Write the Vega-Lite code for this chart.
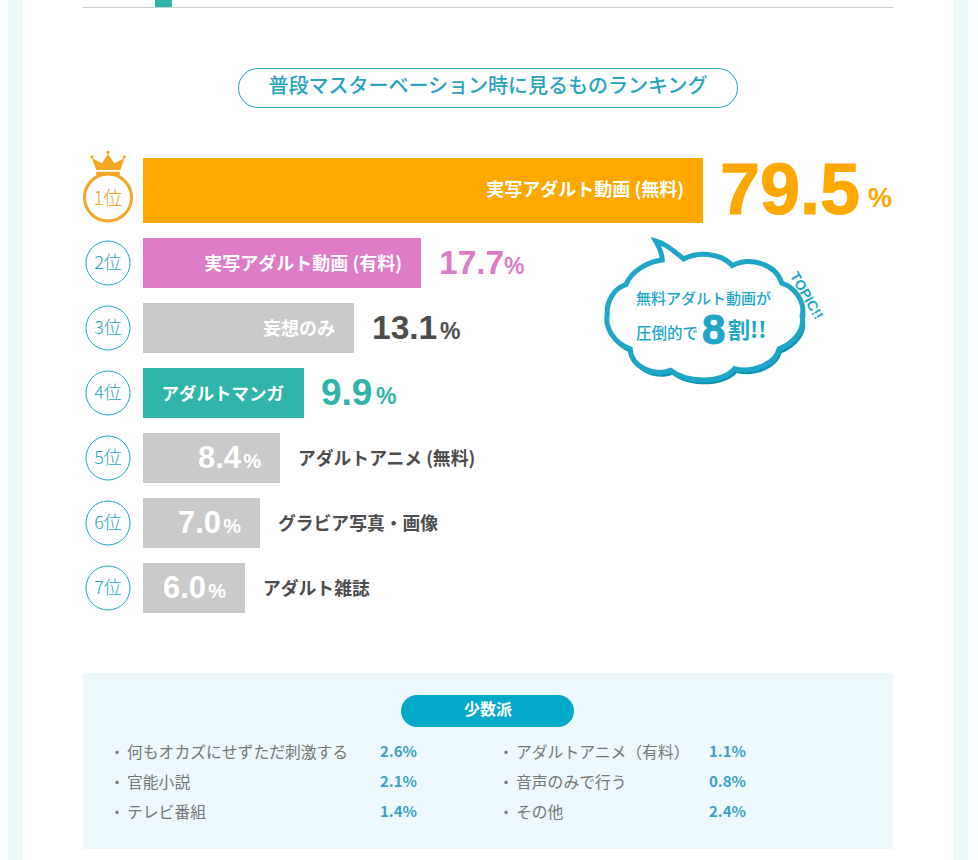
{"$schema":"https://vega.github.io/schema/vega-lite/v6.json","width":978,"height":860,"padding":0,"autosize":{"type":"fit","contains":"padding"},"background":"#fbfefe","config":{"view":{"stroke":null},"text":{"font":"Noto Sans CJK JP"}},
"datasets":{"ranking":[
{"rank":1,"rankLabel":"1位","label":"実写アダルト動画 (無料)","value":79.5,"valueText":"79.5"},
{"rank":2,"rankLabel":"2位","label":"実写アダルト動画 (有料)","value":17.7,"valueText":"17.7"},
{"rank":3,"rankLabel":"3位","label":"妄想のみ","value":13.1,"valueText":"13.1"},
{"rank":4,"rankLabel":"4位","label":"アダルトマンガ","value":9.9,"valueText":"9.9"},
{"rank":5,"rankLabel":"5位","label":"アダルトアニメ (無料)","value":8.4,"valueText":"8.4"},
{"rank":6,"rankLabel":"6位","label":"グラビア写真・画像","value":7.0,"valueText":"7.0"},
{"rank":7,"rankLabel":"7位","label":"アダルト雑誌","value":6.0,"valueText":"6.0"}],
"minority":[
{"column":0,"row":0,"name":"何もオカズにせずただ刺激する","share":"2.6%"},
{"column":0,"row":1,"name":"官能小説","share":"2.1%"},
{"column":0,"row":2,"name":"テレビ番組","share":"1.4%"},
{"column":1,"row":0,"name":"アダルトアニメ（有料）","share":"1.1%"},
{"column":1,"row":1,"name":"音声のみで行う","share":"0.8%"},
{"column":1,"row":2,"name":"その他","share":"2.4%"}]},
"resolve":{"scale":{"x":"independent","y":"independent"}},
"layer":[
{"data":{"values":[{}]},"layer":[
{"mark":{"type":"rect","fill":"#eaf7f7"},"encoding":{"x":{"value":8},"x2":{"value":968},"y":{"value":0},"y2":{"value":860}}},
{"mark":{"type":"rect","fill":"#ffffff"},"encoding":{"x":{"value":23},"x2":{"value":953},"y":{"value":0},"y2":{"value":860}}},
{"mark":{"type":"rule","stroke":"#cccccc","strokeWidth":1},"encoding":{"x":{"value":83},"x2":{"value":893},"y":{"value":7.5}}},
{"mark":{"type":"rect","fill":"#2fb5a8"},"encoding":{"x":{"value":155},"x2":{"value":172},"y":{"value":0},"y2":{"value":7}}},
{"mark":{"type":"rect","fill":"#ffffff","stroke":"#2aa3bf","strokeWidth":1,"cornerRadius":20},"encoding":{"x":{"value":238.5},"x2":{"value":737.5},"y":{"value":68.5},"y2":{"value":107.5}}},
{"mark":{"type":"text","text":"普段マスターベーション時に見るものランキング","fontSize":20,"fontWeight":500,"fill":"#2aa3bf","align":"center","baseline":"middle"},"encoding":{"x":{"value":488},"y":{"value":87}}},
{"mark":{"type":"rect","fill":"#ecf8fc"},"encoding":{"x":{"value":83},"x2":{"value":893},"y":{"value":673},"y2":{"value":849}}},
{"mark":{"type":"rect","fill":"#05a9c9","cornerRadius":16},"encoding":{"x":{"value":401},"x2":{"value":574},"y":{"value":695},"y2":{"value":727}}},
{"mark":{"type":"text","text":"少数派","fontSize":16,"fontWeight":"bold","fill":"#ffffff","align":"center","baseline":"middle"},"encoding":{"x":{"value":488},"y":{"value":710}}},
{"mark":{"type":"point","filled":true,"fill":"#f5a623","opacity":1,"shape":"M-0.91,-0.38 L-0.34,-0.1 L0,-0.63 L0.36,-0.1 L0.93,-0.38 L0.71,0.29 L-0.67,0.29Z M-0.67,0.38 L0.67,0.38 L0.67,0.63 L-0.67,0.63Z M-1,-0.45a0.09,0.09 0 1,0 0.18,0a0.09,0.09 0 1,0 -0.18,0Z M-0.09,-0.72a0.09,0.09 0 1,0 0.18,0a0.09,0.09 0 1,0 -0.18,0Z M0.84,-0.45a0.09,0.09 0 1,0 0.18,0a0.09,0.09 0 1,0 -0.18,0Z","size":1225},"encoding":{"x":{"value":108},"y":{"value":165}}},
{"mark":{"type":"point","filled":true,"fill":"#0f93b5","opacity":1,"shape":"M-0.5,-0.73 C-0.4,-0.703 -0.3,-0.62 -0.217,-0.547 C-0.083,-0.62 0.15,-0.62 0.277,-0.48 C0.45,-0.57 0.717,-0.503 0.777,-0.303 C0.933,-0.253 1.017,-0.087 0.983,0.03 C1.017,0.18 0.883,0.313 0.75,0.363 C0.717,0.513 0.483,0.613 0.3,0.563 C0.167,0.713 -0.183,0.713 -0.35,0.58 C-0.517,0.647 -0.75,0.547 -0.757,0.363 C-0.917,0.313 -1.017,0.147 -0.99,0.013 C-1,-0.12 -0.917,-0.253 -0.8,-0.287 C-0.75,-0.42 -0.583,-0.52 -0.433,-0.537 C-0.433,-0.603 -0.467,-0.67 -0.5,-0.73Z","size":39500},"encoding":{"x":{"value":707},"y":{"value":317}}},
{"mark":{"type":"point","filled":true,"fill":"#ffffff","stroke":"#1ea6c8","strokeWidth":5,"opacity":1,"shape":"M-0.5,-0.73 C-0.4,-0.703 -0.3,-0.62 -0.217,-0.547 C-0.083,-0.62 0.15,-0.62 0.277,-0.48 C0.45,-0.57 0.717,-0.503 0.777,-0.303 C0.933,-0.253 1.017,-0.087 0.983,0.03 C1.017,0.18 0.883,0.313 0.75,0.363 C0.717,0.513 0.483,0.613 0.3,0.563 C0.167,0.713 -0.183,0.713 -0.35,0.58 C-0.517,0.647 -0.75,0.547 -0.757,0.363 C-0.917,0.313 -1.017,0.147 -0.99,0.013 C-1,-0.12 -0.917,-0.253 -0.8,-0.287 C-0.75,-0.42 -0.583,-0.52 -0.433,-0.537 C-0.433,-0.603 -0.467,-0.67 -0.5,-0.73Z","size":39000},"encoding":{"x":{"value":705},"y":{"value":313}}},
{"mark":{"type":"text","text":"TOPIC!!","font":"Liberation Sans","fontWeight":"bold","fontSize":14,"fill":"#1ea6c8","angle":60,"align":"center","baseline":"middle"},"encoding":{"x":{"value":806},"y":{"value":296}}},
{"mark":{"type":"text","text":"無料アダルト動画が","fontSize":15,"fontWeight":500,"fill":"#1ea6c8","align":"left","baseline":"middle"},"encoding":{"x":{"value":636},"y":{"value":299}}},
{"mark":{"type":"text","text":"圧倒的で","fontSize":15.5,"fontWeight":500,"fill":"#1ea6c8","align":"left","baseline":"middle"},"encoding":{"x":{"value":636},"y":{"value":334}}},
{"mark":{"type":"text","text":"8","font":"Liberation Sans","fontWeight":"bold","fontSize":42,"fill":"#1ea6c8","stroke":"#1ea6c8","strokeWidth":1,"align":"left","baseline":"middle"},"encoding":{"x":{"value":702},"y":{"value":331}}},
{"mark":{"type":"text","text":"割!!","fontWeight":"bold","fontSize":22,"fill":"#1ea6c8","align":"left","baseline":"middle"},"encoding":{"x":{"value":728},"y":{"value":331}}}
]},
{"data":{"name":"ranking"},
"encoding":{"x":{"field":"value","type":"quantitative","axis":null,"scale":{"domain":[0,6,7,8.4,9.9,13.1,17.7,79.5],"range":[143,245,260,280,304,354,421,703],"zero":false,"nice":false,"padding":0}},
"y":{"field":"rank","type":"quantitative","axis":null,"scale":{"domain":[1,2,7],"range":[190.5,263,588],"zero":false,"nice":false,"padding":0}}},
"layer":[
{"transform":[{"filter":"datum.rank==1"}],"mark":{"type":"bar","orient":"horizontal","size":65},"encoding":{"x":{"field":"value","type":"quantitative","stack":null},"color":{"field":"label","type":"nominal","legend":null,"scale":{"domain":["実写アダルト動画 (無料)","実写アダルト動画 (有料)","妄想のみ","アダルトマンガ","アダルトアニメ (無料)","グラビア写真・画像","アダルト雑誌"],"range":["#ffa800","#df7cc7","#cacaca","#2fb5a8","#cacaca","#cacaca","#cacaca"]}}}},
{"transform":[{"filter":"datum.rank>1"}],"mark":{"type":"bar","orient":"horizontal","size":50},"encoding":{"x":{"field":"value","type":"quantitative","stack":null},"color":{"field":"label","type":"nominal","legend":null}}},
{"transform":[{"filter":"datum.rank>1"}],"mark":{"type":"point","filled":false,"stroke":"#1ea6c0","strokeWidth":1,"opacity":1,"size":1936},"encoding":{"x":{"value":108}}},
{"transform":[{"filter":"datum.rank==1"}],"mark":{"type":"point","filled":true,"fill":"#ffffff","stroke":"#f5a623","strokeWidth":3,"opacity":1,"size":2209},"encoding":{"x":{"value":108},"yOffset":{"value":7}}},
{"transform":[{"filter":"datum.rank>1"}],"mark":{"type":"text","fontSize":18,"fontWeight":300,"fill":"#2aa3bf","align":"center","baseline":"middle","dy":1},"encoding":{"x":{"value":108},"text":{"field":"rankLabel"}}},
{"transform":[{"filter":"datum.rank==1"}],"mark":{"type":"text","fontSize":19,"fontWeight":300,"fill":"#eda22e","align":"center","baseline":"middle","dy":8},"encoding":{"x":{"value":108},"text":{"field":"rankLabel"}}},
{"transform":[{"filter":"datum.rank==1"}],"mark":{"type":"text","fontSize":18,"fontWeight":"bold","fill":"#ffffff","align":"right","baseline":"middle","dx":-19},"encoding":{"text":{"field":"label"}}},
{"transform":[{"filter":"datum.rank>1 && datum.rank<4"}],"mark":{"type":"text","fontSize":18,"fontWeight":"bold","fill":"#ffffff","align":"right","baseline":"middle","dx":-19,"dy":2},"encoding":{"text":{"field":"label"}}},
{"transform":[{"filter":"datum.rank==4"}],"mark":{"type":"text","fontSize":17.5,"fontWeight":"bold","fill":"#ffffff","align":"right","baseline":"middle","dx":-20,"dy":2},"encoding":{"text":{"field":"label"}}},
{"transform":[{"filter":"datum.rank>=5"}],"mark":{"type":"text","fontSize":17.8,"fontWeight":"bold","fill":"#4d4d4d","align":"left","baseline":"middle","dx":18,"dy":2},"encoding":{"text":{"field":"label"}}},
{"transform":[{"filter":"datum.rank==1"}],"mark":{"type":"text","font":"Liberation Sans","fontSize":72,"fontWeight":"bold","fill":"#ffa800","stroke":"#ffa800","strokeWidth":1,"align":"left","baseline":"middle","dx":17,"dy":1},"encoding":{"text":{"field":"valueText"}}},
{"transform":[{"filter":"datum.rank==1"}],"mark":{"type":"text","font":"Liberation Sans","fontSize":27,"fontWeight":"bold","fill":"#ffa800","align":"right","baseline":"middle","dx":189,"dy":8,"text":"%"}},
{"transform":[{"filter":"datum.rank==2 || datum.rank==3"}],"mark":{"type":"text","font":"Liberation Sans","fontSize":33.5,"fontWeight":"bold","align":"left","baseline":"middle","dx":18,"dy":1},"encoding":{"text":{"field":"valueText"},"color":{"condition":[{"test":"datum.rank==2","value":"#df7cc7"}],"value":"#4d4d4d"}}},
{"transform":[{"filter":"datum.rank==4"}],"mark":{"type":"text","font":"Liberation Sans","fontSize":37,"fontWeight":"bold","fill":"#2fb5a8","align":"left","baseline":"middle","dx":17,"dy":1},"encoding":{"text":{"field":"valueText"}}},
{"transform":[{"filter":"datum.rank==2"}],"mark":{"type":"text","font":"Liberation Sans","fontSize":23,"fontWeight":"bold","fill":"#df7cc7","align":"left","baseline":"middle","dx":83,"dy":4,"text":"%"}},
{"transform":[{"filter":"datum.rank==3"}],"mark":{"type":"text","font":"Liberation Sans","fontSize":23,"fontWeight":"bold","fill":"#4d4d4d","align":"left","baseline":"middle","dx":86,"dy":4,"text":"%"}},
{"transform":[{"filter":"datum.rank==4"}],"mark":{"type":"text","font":"Liberation Sans","fontSize":23,"fontWeight":"bold","fill":"#2fb5a8","align":"left","baseline":"middle","dx":72,"dy":4,"text":"%"}},
{"transform":[{"filter":"datum.rank>=5"}],"mark":{"type":"text","font":"Liberation Sans","fontSize":31,"fontWeight":"bold","fill":"#ffffff","align":"right","baseline":"middle","dx":-39,"dy":1},"encoding":{"text":{"field":"valueText"}}},
{"transform":[{"filter":"datum.rank>=5"}],"mark":{"type":"text","font":"Liberation Sans","fontSize":20,"fontWeight":"bold","fill":"#ffffff","align":"right","baseline":"middle","dx":-19,"dy":4,"text":"%"}}
]},
{"data":{"name":"minority"},
"encoding":{"x":{"field":"column","type":"quantitative","axis":null,"scale":{"domain":[0,1],"range":[127,516],"zero":false,"nice":false}},
"y":{"field":"row","type":"quantitative","axis":null,"scale":{"domain":[0,2],"range":[753,813],"zero":false,"nice":false}}},
"layer":[
{"mark":{"type":"text","fontSize":15.8,"fill":"#777777","align":"left","baseline":"middle"},"encoding":{"text":{"field":"name"}}},
{"mark":{"type":"text","fontSize":15,"fill":"#777777","align":"center","baseline":"middle","dx":-10,"text":"・"}},
{"transform":[{"filter":"datum.column==0"}],"mark":{"type":"text","fontSize":15,"fontWeight":"bold","fill":"#3aa3c4","align":"left","baseline":"middle","dx":253,"dy":-1},"encoding":{"text":{"field":"share"}}},
{"transform":[{"filter":"datum.column==1"}],"mark":{"type":"text","fontSize":15,"fontWeight":"bold","fill":"#3aa3c4","align":"left","baseline":"middle","dx":193,"dy":-1},"encoding":{"text":{"field":"share"}}}
]}
]}
